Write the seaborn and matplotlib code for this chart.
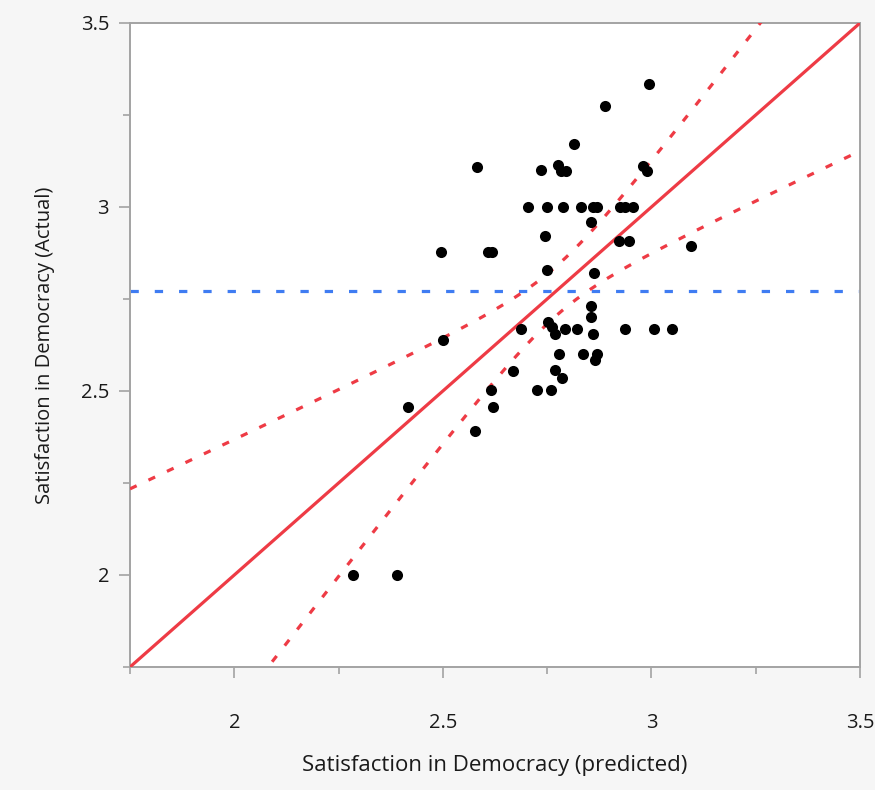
import numpy as np
import pandas as pd
import matplotlib
matplotlib.use("Agg")
import matplotlib.pyplot as plt
import seaborn as sns
from matplotlib.ticker import FixedLocator, FuncFormatter

# Actual vs predicted satisfaction scores, one entry per observation
predicted = [2.993, 2.889, 2.815, 2.581, 2.735, 2.777, 2.784, 2.795, 2.979, 2.989,
             2.705, 2.749, 2.788, 2.832, 2.860, 2.870, 2.925, 2.937, 2.956,
             2.855, 2.745, 2.923, 2.947, 3.095, 2.496, 2.609, 2.617, 2.749, 2.863,
             2.855, 2.855, 2.500, 2.688, 2.753, 2.761, 2.769, 2.793, 2.821, 2.859,
             2.937, 3.005, 3.049, 2.779, 2.835, 2.869, 2.865, 2.669, 2.769, 2.785,
             2.615, 2.725, 2.760, 2.621, 2.577, 2.417, 2.284, 2.391]
actual = [3.334, 3.274, 3.171, 3.110, 3.101, 3.114, 3.099, 3.099, 3.111, 3.099,
          3.000, 3.000, 3.000, 3.000, 3.000, 3.000, 3.000, 3.000, 3.000,
          2.958, 2.921, 2.908, 2.908, 2.894, 2.877, 2.877, 2.877, 2.829, 2.822,
          2.731, 2.702, 2.639, 2.668, 2.688, 2.675, 2.655, 2.668, 2.668, 2.655,
          2.668, 2.668, 2.668, 2.600, 2.600, 2.600, 2.584, 2.555, 2.557, 2.535,
          2.503, 2.503, 2.503, 2.457, 2.392, 2.457, 2.000, 2.000]

# Mean of the response and parameters of the confidence curves
mean_actual = 2.772
band_const = 0.0045
band_slope = 0.22

axis_min, axis_max = 1.75, 3.5
major_ticks = [2.0, 2.5, 3.0, 3.5]
minor_ticks = [1.75, 2.25, 2.75, 3.25]

RED = "#ee3b45"
BLUE = "#3f7cf2"
GRAY = "#a3a3a3"

sns.set_theme(style="white")
plt.rcParams["font.family"] = ["Open Sans", "DejaVu Sans"]

fig = plt.figure(figsize=(8.75, 7.9), dpi=100, facecolor="#f6f6f6")
ax = fig.add_axes([130 / 875, 1 - 667 / 790, 730 / 875, 644 / 790])
ax.set_facecolor("white")

df = pd.DataFrame({"predicted": predicted, "actual": actual})

# line of fit and its confidence curves
grid = np.linspace(axis_min, axis_max, 400)
half = np.sqrt(band_const + band_slope * (grid - mean_actual) ** 2)
fit = pd.DataFrame({"x": grid, "fit": grid, "upper": grid + half, "lower": grid - half})

sns.lineplot(data=fit, x="x", y="fit", color=RED, linewidth=2.3, ax=ax, zorder=3)
for col in ("upper", "lower"):
    sns.lineplot(data=fit, x="x", y=col, color=RED, linewidth=2.3, ax=ax, zorder=3,
                 dashes=False)
    ax.lines[-1].set_dashes([2.3, 4.1])
    ax.lines[-1].set_dash_capstyle("butt")

ax.axhline(mean_actual, color=BLUE, linewidth=2.3, dashes=(2.6, 5.0), zorder=2)

sns.scatterplot(data=df, x="predicted", y="actual", color="black", s=64,
                linewidth=0, ax=ax, zorder=4)

ax.set_xlim(axis_min, axis_max)
ax.set_ylim(axis_min, axis_max)

fmt = FuncFormatter(lambda v, p: f"{v:g}")
for axis in (ax.xaxis, ax.yaxis):
    axis.set_major_locator(FixedLocator(major_ticks))
    axis.set_minor_locator(FixedLocator(minor_ticks))
    axis.set_major_formatter(fmt)

ax.tick_params(which="major", direction="out", length=8, width=1.2, color=GRAY,
               labelsize=14.5, labelcolor="#1a1a1a")
ax.tick_params(which="minor", direction="out", length=5, width=1.2, color=GRAY)
ax.tick_params(axis="x", which="major", pad=25)
ax.tick_params(axis="y", which="major", pad=7)
ax.tick_params(bottom=True, left=True, which="both")

for side in ("left", "bottom", "right", "top"):
    ax.spines[side].set_visible(True)
    ax.spines[side].set_color(GRAY)
    ax.spines[side].set_linewidth(1.4)

ax.set_xlabel("Satisfaction in Democracy (predicted)", fontsize=16, color="#1a1a1a")
ax.set_ylabel("Satisfaction in Democracy (Actual)", fontsize=14.5, color="#1a1a1a")
ax.xaxis.set_label_coords(0.5, (667 - 765) / 644)
ax.xaxis.label.set_va("center")
ax.yaxis.set_label_coords((45 - 130) / 730, 0.5)
ax.yaxis.label.set_va("center")

fig.savefig("out.png", dpi=100, facecolor=fig.get_facecolor())
